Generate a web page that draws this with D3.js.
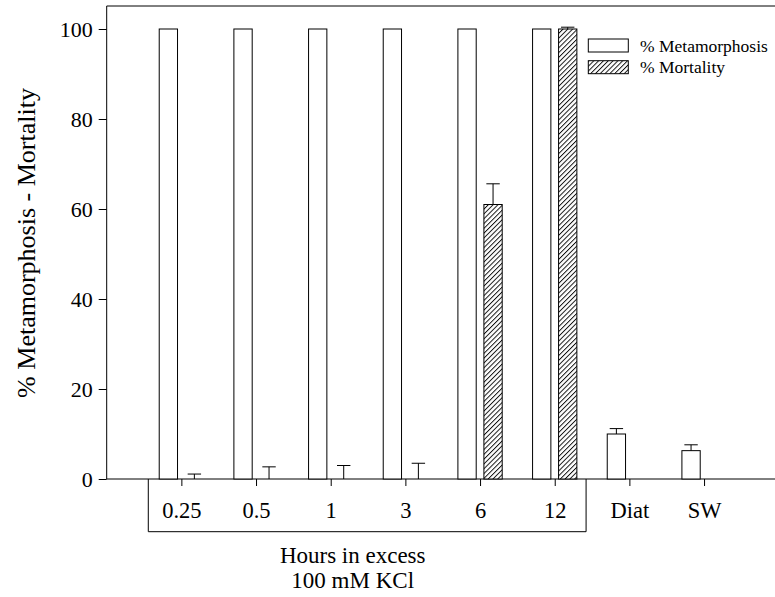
<!DOCTYPE html>
<html>
<head>
<meta charset="utf-8">
<script src="https://cdn.jsdelivr.net/npm/d3@7"></script>
<style>
html,body{margin:0;padding:0;background:#fff;}
svg{display:block;}
svg text{font-family:'Liberation Serif','Times New Roman',Times,'DejaVu Serif',serif !important;fill:#000;}
</style>
</head>
<body>
<svg id="chart" width="775" height="597"></svg>
<script>
const categories = ["0.25","0.5","1","3","6","12","Diat","SW"];
const metamorphosis = [100,100,100,100,100,100,10,6.3];
const metamorphosisErr = [0,0,0,0,0,0,1.2,1.3];
const mortality = [0,0,0,0,61,100,null,null];
const mortalityErr = [1.1,2.7,3.0,3.5,4.6,0.4,null,null];
const yTicks = [0,20,40,60,80,100];
const seriesNames = ["% Metamorphosis","% Mortality"];

(function(){
const FONT = "'Liberation Serif','Times New Roman',Times,serif";
const svg = d3.select("#chart").attr("font-family", FONT);
const W = 775;
const plotLeft = 106.7, plotBottom = 479, plotTop = 6.5;

const x = d3.scaleLinear().domain([0, categories.length + 1]).range([plotLeft, plotLeft + 74.67*(categories.length+1)]);
const y = d3.scaleLinear().domain([0, 105]).range([plotBottom, plotTop]);

const barW = 18.3, gap = 3.85;

// hatch pattern
const defs = svg.append("defs");
const pat = defs.append("pattern").attr("id","hatch").attr("patternUnits","userSpaceOnUse")
  .attr("width",3.4).attr("height",3.4).attr("patternTransform","rotate(45)");
pat.append("rect").attr("width",3.4).attr("height",3.4).attr("fill","#fff");
pat.append("line").attr("x1",0.5).attr("y1",0).attr("x2",0.5).attr("y2",3.4).attr("stroke","#000").attr("stroke-width",0.9);

// frame: top line
svg.append("line").attr("x1",plotLeft).attr("x2",W).attr("y1",6).attr("y2",6).attr("stroke","#000").attr("stroke-width",1);

// y axis
const yAxis = d3.axisLeft(y).tickValues(yTicks).tickSize(8).tickPadding(6).tickFormat(d3.format("d"));
const gy = svg.append("g").attr("transform",`translate(${plotLeft},0)`).call(yAxis).attr("font-family", FONT);
gy.select(".domain").remove();
gy.selectAll(".tick line").attr("stroke","#000");
gy.selectAll(".tick text").attr("font-size",22).style("font-family", FONT);
svg.append("line").attr("x1",plotLeft).attr("x2",plotLeft).attr("y1",6).attr("y2",plotBottom).attr("stroke","#000");

// x axis
const xAxis = d3.axisBottom(x).tickValues(categories.map((c,i)=>i+1)).tickSize(7).tickPadding(16)
  .tickFormat((d)=>categories[d-1]);
const gx = svg.append("g").attr("transform",`translate(0,${plotBottom})`).call(xAxis).attr("font-family", FONT);
gx.select(".domain").remove();
gx.selectAll(".tick line").attr("stroke","#000");
gx.selectAll(".tick text").attr("font-size",22.5).style("font-family", FONT);
svg.append("line").attr("x1",plotLeft).attr("x2",W).attr("y1",plotBottom).attr("y2",plotBottom).attr("stroke","#000");

// bracket under KCl groups
const bL = x(0.557), bR = x(6.42), bB = 531.7;
svg.append("path").attr("d",`M${bL},${plotBottom}V${bB}H${bR}V${plotBottom}`).attr("fill","none").attr("stroke","#000");

// bars
const data = categories.map((c,i)=>({c,i,m:metamorphosis[i],me:metamorphosisErr[i],o:mortality[i],oe:mortalityErr[i]}));
const g = svg.append("g");
g.selectAll("rect.met").data(data).join("rect").attr("class","met")
  .attr("x",d=>x(d.i+1)-gap-barW).attr("width",barW)
  .attr("y",d=>y(d.m)).attr("height",d=>y(0)-y(d.m))
  .attr("fill","#fff").attr("stroke","#000").attr("stroke-width",1);
g.selectAll("rect.mort").data(data.filter(d=>d.o!==null && d.o>0)).join("rect").attr("class","mort")
  .attr("x",d=>x(d.i+1)+gap).attr("width",barW)
  .attr("y",d=>y(d.o)).attr("height",d=>y(0)-y(d.o))
  .attr("fill","url(#hatch)").attr("stroke","#000").attr("stroke-width",1);

// error bars
const capW = 13.4;
function errBar(cx, v, e){
  if(e===null || e<=0) return;
  const y0 = y(v), y1 = y(v+e);
  g.append("line").attr("x1",cx).attr("x2",cx).attr("y1",y0).attr("y2",y1).attr("stroke","#000");
  g.append("line").attr("x1",cx-capW/2).attr("x2",cx+capW/2).attr("y1",y1).attr("y2",y1).attr("stroke","#000");
}
data.forEach(d=>{
  errBar(x(d.i+1)-gap-barW/2, d.m, d.me);
  if(d.o!==null) errBar(x(d.i+1)+gap+barW/2, d.o, d.oe);
});

// legend
const lg = svg.append("g");
const lx = 588.3, ly = [39, 60.7];
seriesNames.forEach((s,k)=>{
  lg.append("rect").attr("x",lx).attr("y",ly[k]).attr("width",40).attr("height",13)
    .attr("fill",k===0?"#fff":"url(#hatch)").attr("stroke","#000");
  lg.append("text").attr("x",640).attr("y",ly[k]+12.5).attr("font-size",17.5).text(s);
});

// axis titles
svg.append("text").attr("transform",`translate(35,243) rotate(-90)`).attr("text-anchor","middle")
  .attr("font-size",26).text("% Metamorphosis - Mortality");
svg.append("text").attr("x",352.7).attr("y",563.3).attr("text-anchor","middle").attr("font-size",23).text("Hours in excess");
svg.append("text").attr("x",352.7).attr("y",588.3).attr("text-anchor","middle").attr("font-size",23).text("100 mM KCl");
})();
</script>
</body>
</html>
